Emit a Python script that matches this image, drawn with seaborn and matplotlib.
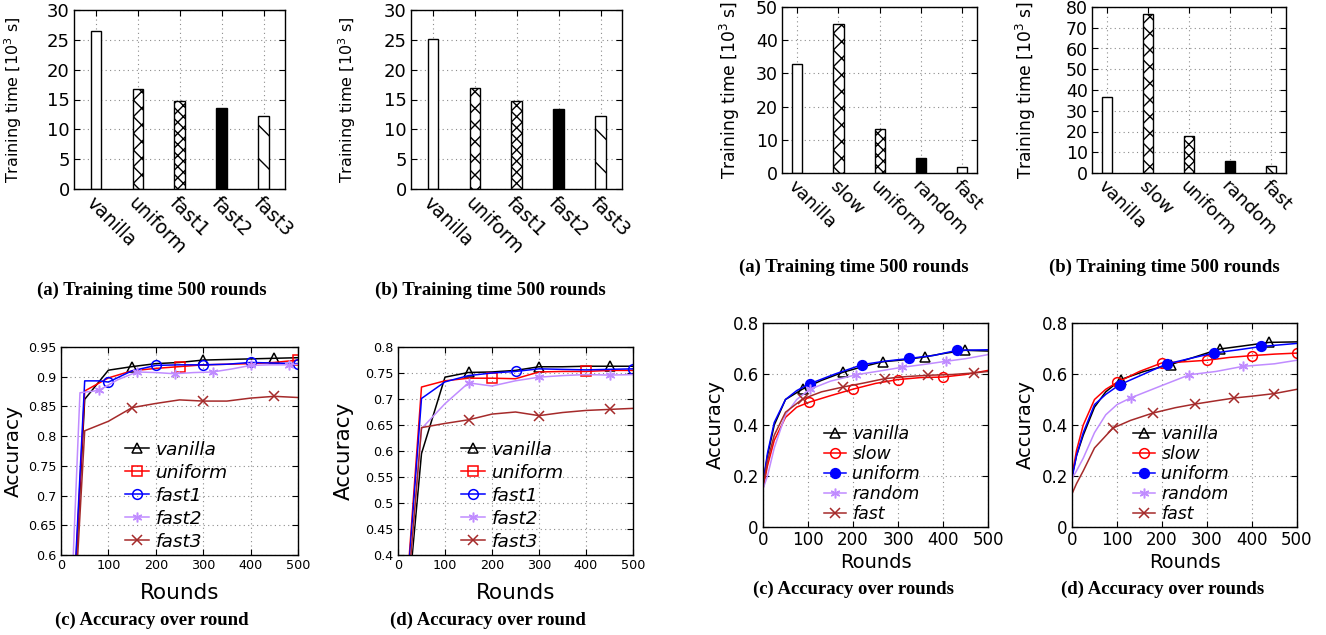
import matplotlib
matplotlib.use('Agg')
import matplotlib.pyplot as plt
from matplotlib.lines import Line2D
import seaborn as sns

W, H = 1326, 635

# ---- training time bars (10^3 s) ----
cats_left = ["vanilla", "uniform", "fast1", "fast2", "fast3"]
time_a_left = [26.4, 16.8, 14.8, 13.5, 12.3]
time_b_left = [25.2, 16.9, 14.8, 13.4, 12.3]

cats_right = ["vanilla", "slow", "uniform", "random", "fast"]
time_a_right = [32.9, 44.9, 13.2, 4.4, 1.9]
time_b_right = [36.8, 76.4, 17.6, 5.8, 3.2]

# ---- accuracy over rounds, left pair ----
c_left = {
    "vanilla": ([0, 50, 100, 150, 200, 250, 300, 350, 400, 450, 500],
                [0.10, 0.862, 0.911, 0.917, 0.922, 0.924, 0.928, 0.929, 0.930, 0.931, 0.932],
                [150, 300, 450]),
    "uniform": ([0, 50, 100, 150, 200, 250, 300, 350, 400, 450, 500],
                [0.10, 0.876, 0.898, 0.910, 0.914, 0.917, 0.920, 0.921, 0.922, 0.924, 0.928],
                [250, 500]),
    "fast1": ([0, 50, 80, 100, 150, 200, 250, 300, 350, 400, 450, 500],
              [0.10, 0.893, 0.893, 0.891, 0.910, 0.919, 0.920, 0.920, 0.921, 0.924, 0.923, 0.922],
              [100, 200, 300, 400, 500]),
    "fast2": ([0, 40, 80, 120, 160, 200, 240, 280, 320, 360, 400, 440, 480, 500],
              [0.10, 0.873, 0.877, 0.895, 0.908, 0.907, 0.905, 0.907, 0.908, 0.913, 0.919, 0.920, 0.920, 0.921],
              [80, 160, 240, 320, 400, 480]),
    "fast3": ([0, 50, 100, 150, 200, 250, 300, 350, 400, 450, 500],
              [0.10, 0.809, 0.825, 0.848, 0.855, 0.861, 0.859, 0.859, 0.864, 0.867, 0.865],
              [150, 300, 450]),
}
d_rounds = [0, 50, 100, 150, 200, 250, 300, 350, 400, 450, 500]
d_left = {
    "vanilla": (d_rounds, [0.10, 0.595, 0.742, 0.751, 0.752, 0.755, 0.762, 0.762, 0.763, 0.763, 0.763],
                [150, 300, 450]),
    "uniform": (d_rounds, [0.10, 0.723, 0.735, 0.740, 0.740, 0.739, 0.752, 0.753, 0.753, 0.755, 0.755],
                [200, 400]),
    "fast1": (d_rounds, [0.10, 0.701, 0.733, 0.745, 0.750, 0.753, 0.758, 0.757, 0.756, 0.757, 0.758],
              [250, 500]),
    "fast2": (d_rounds, [0.10, 0.643, 0.691, 0.731, 0.725, 0.735, 0.742, 0.745, 0.747, 0.746, 0.747],
              [150, 300, 450]),
    "fast3": (d_rounds, [0.10, 0.645, 0.653, 0.660, 0.671, 0.675, 0.668, 0.674, 0.678, 0.680, 0.682],
              [150, 300, 450]),
}

# ---- accuracy over rounds, right pair ----
c_right = {
    "vanilla": ([0, 10, 25, 50, 88, 130, 178, 220, 266, 310, 359, 400, 449, 500],
                [0.17, 0.28, 0.40, 0.50, 0.541, 0.575, 0.607, 0.628, 0.648, 0.655, 0.667, 0.680, 0.693, 0.690],
                [88, 178, 266, 359, 449]),
    "slow": ([0, 10, 25, 50, 75, 102, 150, 201, 250, 299, 350, 400, 450, 500],
             [0.15, 0.24, 0.34, 0.43, 0.47, 0.489, 0.515, 0.541, 0.563, 0.578, 0.586, 0.588, 0.598, 0.614],
             [102, 201, 299, 400]),
    "uniform": ([0, 10, 25, 50, 75, 104, 160, 221, 270, 325, 380, 431, 500],
                [0.17, 0.29, 0.41, 0.50, 0.535, 0.562, 0.600, 0.637, 0.650, 0.661, 0.673, 0.693, 0.695],
                [104, 221, 325, 431]),
    "random": ([0, 10, 25, 50, 75, 104, 150, 207, 260, 308, 360, 407, 450, 500],
               [0.15, 0.20, 0.31, 0.44, 0.50, 0.540, 0.572, 0.597, 0.612, 0.626, 0.638, 0.650, 0.660, 0.676],
               [104, 207, 308, 407]),
    "fast": ([0, 10, 25, 50, 88, 130, 178, 225, 271, 320, 366, 420, 468, 500],
             [0.16, 0.26, 0.36, 0.45, 0.502, 0.530, 0.549, 0.565, 0.582, 0.590, 0.595, 0.598, 0.604, 0.610],
             [88, 178, 271, 366, 468]),
}
d_right = {
    "vanilla": ([0, 10, 25, 50, 75, 108, 160, 219, 270, 328, 380, 438, 500],
                [0.20, 0.28, 0.36, 0.47, 0.53, 0.578, 0.610, 0.637, 0.665, 0.698, 0.710, 0.724, 0.726],
                [108, 219, 328, 438]),
    "slow": ([0, 10, 25, 50, 75, 100, 150, 199, 250, 300, 350, 399, 450, 500],
             [0.20, 0.30, 0.40, 0.50, 0.54, 0.567, 0.610, 0.643, 0.648, 0.654, 0.665, 0.672, 0.678, 0.682],
             [100, 199, 300, 399, 500]),
    "uniform": ([0, 10, 25, 50, 75, 106, 160, 210, 260, 315, 370, 421, 500],
                [0.19, 0.28, 0.37, 0.48, 0.52, 0.558, 0.600, 0.639, 0.660, 0.682, 0.695, 0.708, 0.720],
                [106, 210, 315, 421]),
    "random": ([0, 10, 25, 50, 75, 100, 130, 200, 261, 320, 380, 450, 500],
               [0.19, 0.22, 0.27, 0.37, 0.44, 0.480, 0.506, 0.555, 0.597, 0.610, 0.630, 0.640, 0.654],
               [130, 261, 380]),
    "fast": ([0, 10, 25, 50, 91, 130, 180, 230, 273, 320, 361, 400, 449, 500],
             [0.13, 0.17, 0.22, 0.31, 0.388, 0.418, 0.447, 0.468, 0.482, 0.495, 0.506, 0.513, 0.523, 0.540],
             [91, 180, 273, 361, 449]),
}

BLACK, RED, BLUE, LAV, BROWN = "black", "#ff0000", "#0000ff", "#c08cff", "#a52a2a"
ASTER = (6, 2, 0)
# name -> (color, marker, filled)
style_left = {"vanilla": (BLACK, "^", False), "uniform": (RED, "s", False),
              "fast1": (BLUE, "o", False), "fast2": (LAV, ASTER, False),
              "fast3": (BROWN, "x", False)}
style_right = {"vanilla": (BLACK, "^", False), "slow": (RED, "o", False),
               "uniform": (BLUE, "o", True), "random": (LAV, ASTER, False),
               "fast": (BROWN, "x", False)}

bar_hatch = ["", "xx", "xxx", "", "\\"]
bar_face = ["white", "white", "white", "black", "white"]


def axes_at(fig, l, t, r, b):
    return fig.add_axes([l / W, 1 - b / H, (r - l) / W, (b - t) / H])


def style_axes(ax, tick_size):
    ax.grid(True, linestyle=(0, (1, 3)), color="#8c8c8c", linewidth=0.8)
    ax.set_axisbelow(True)
    ax.tick_params(direction="in", top=True, right=True, length=4, width=0.8,
                   labelsize=tick_size, pad=3)
    for s in ax.spines.values():
        s.set_linewidth(1.0)
        s.set_color("black")


def bar_panel(ax, cats, vals, ymax, ystep, xlim, tick_size, lab_size, lab_x):
    sns.barplot(x=cats, y=vals, ax=ax, color="white", edgecolor="black",
                linewidth=1, width=0.25, saturation=1)
    for p, h, fc in zip(ax.patches, bar_hatch, bar_face):
        p.set_hatch(h)
        p.set_facecolor(fc)
    ax.set_ylim(0, ymax)
    ax.set_yticks(range(0, ymax + 1, ystep))
    ax.set_xlim(*xlim)
    style_axes(ax, tick_size)
    ax.set_xticks(range(len(cats)))
    ax.set_xticklabels(cats, rotation=-45, ha="left", rotation_mode="anchor",
                       fontsize=tick_size + 0.5)
    ax.set_ylabel("Training time [10$^3$ s]", fontsize=lab_size)
    ax.yaxis.set_label_coords(lab_x, 0.5)
    ax.set_xlabel("")


def line_panel(ax, data, styles, ylim, ystep, tick_size, lab_size, ylab_size, lab_x,
               xlab_y, leg_size, leg_anchor, leg_space, msize):
    handles = []
    for name, (rounds, acc, marks) in data.items():
        color, marker, filled = styles[name]
        idx = [rounds.index(m) for m in marks]
        fc = color if filled else "none"
        sns.lineplot(x=rounds, y=acc, ax=ax, color=color, linewidth=1.1,
                     marker=marker, markevery=idx, markersize=msize,
                     markerfacecolor=fc, markeredgecolor=color, markeredgewidth=1.1)
        handles.append(Line2D([], [], color=color, linewidth=1.1, marker=marker,
                              markersize=msize, markerfacecolor=fc,
                              markeredgecolor=color, markeredgewidth=1.1, label=name))
    ax.set_xlim(0, 500)
    ax.set_ylim(*ylim)
    ax.set_xticks(range(0, 501, 100))
    n = int(round((ylim[1] - ylim[0]) / ystep))
    ax.set_yticks([ylim[0] + i * ystep for i in range(n + 1)])
    ax.yaxis.set_major_formatter(plt.FuncFormatter(lambda v, p: f"{v:g}"))
    style_axes(ax, tick_size)
    ax.set_xlabel("Rounds", fontsize=lab_size)
    ax.set_ylabel("Accuracy", fontsize=ylab_size)
    ax.yaxis.set_label_coords(lab_x, 0.5)
    ax.xaxis.set_label_coords(0.5, xlab_y)
    ax.legend(handles=handles, loc="lower left", bbox_to_anchor=leg_anchor,
              frameon=False, prop={"style": "italic", "size": leg_size},
              handlelength=1.3, handletextpad=0.35, labelspacing=leg_space,
              borderpad=0, borderaxespad=0)


fig = plt.figure(figsize=(W / 100, H / 100), dpi=100)

ax1 = axes_at(fig, 74, 10, 285, 189)
bar_panel(ax1, cats_left, time_a_left, 30, 5, (-0.52, 4.51), 13, 11.5, -0.237)
ax2 = axes_at(fig, 411, 10, 622, 189)
bar_panel(ax2, cats_left, time_b_left, 30, 5, (-0.52, 4.51), 13, 11.5, -0.25)
ax3 = axes_at(fig, 782, 7, 977, 173)
bar_panel(ax3, cats_right, time_a_right, 50, 10, (-0.37, 4.36), 12.5, 12.3, -0.205)
ax4 = axes_at(fig, 1092, 7, 1286, 173)
bar_panel(ax4, cats_right, time_b_right, 80, 10, (-0.37, 4.36), 12.5, 12.3, -0.278)

ax5 = axes_at(fig, 61, 347, 298, 555)
line_panel(ax5, c_left, style_left, (0.6, 0.95), 0.05, 9.2, 15.5, 14.5, -0.163, -0.135,
           13.3, (0.27, 0.02), 0.27, 7)
ax6 = axes_at(fig, 398, 347, 633, 555)
line_panel(ax6, d_left, style_left, (0.4, 0.8), 0.05, 9.2, 15.5, 15.5, -0.187, -0.135,
           13.3, (0.27, 0.02), 0.27, 7)
ax7 = axes_at(fig, 763, 323, 988, 527)
line_panel(ax7, c_right, style_right, (0.0, 0.8), 0.2, 12, 14, 14, -0.169, -0.127,
           12.5, (0.27, 0.02), 0.12, 7)
ax8 = axes_at(fig, 1072, 323, 1297, 527)
line_panel(ax8, d_right, style_right, (0.0, 0.8), 0.2, 12, 14, 14, -0.164, -0.127,
           12.5, (0.27, 0.02), 0.12, 7)

cap = dict(family="Liberation Serif", weight="bold", fontsize=13.5,
           ha="center", va="center")
captions = [(152, 290, "(a) Training time 500 rounds"),
            (490, 290, "(b) Training time 500 rounds"),
            (854, 267, "(a) Training time 500 rounds"),
            (1164, 267, "(b) Training time 500 rounds"),
            (152, 620, "(c) Accuracy over round"),
            (488, 620, "(d) Accuracy over round"),
            (853, 589, "(c) Accuracy over rounds"),
            (1163, 589, "(d) Accuracy over rounds")]
for x, y, t in captions:
    fig.text(x / W, 1 - y / H, t, **cap)

fig.savefig("out.png", dpi=100)
